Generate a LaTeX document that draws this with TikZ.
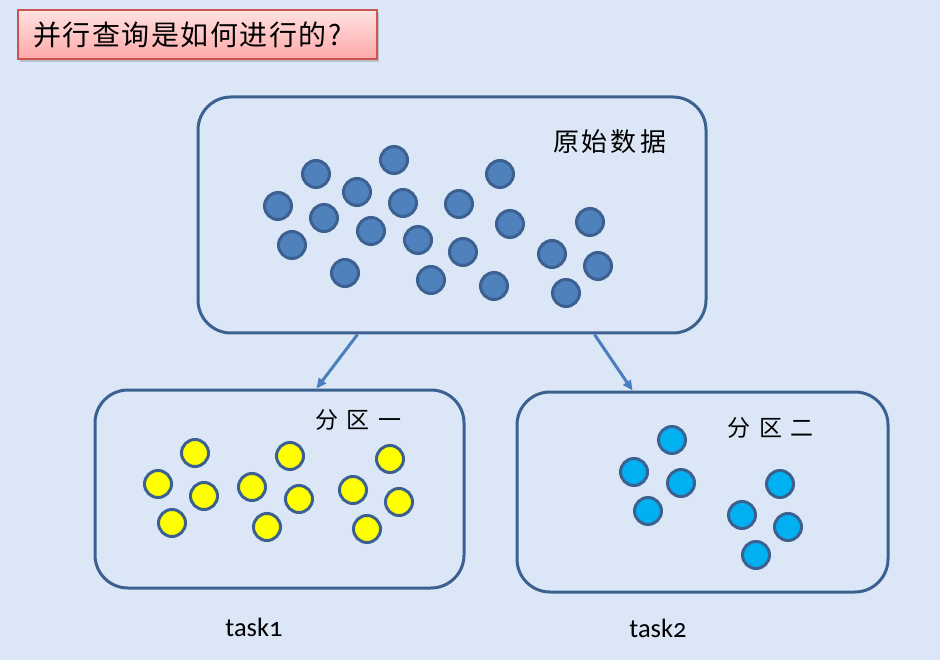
\documentclass[tikz,border=0pt]{standalone}
\usepackage{fontspec}
\setmainfont{Carlito}[Numbers=OldStyle]
\newfontfamily\cjk{Noto Sans CJK SC}
\newfontfamily\cjkwide{Noto Sans CJK SC}[LetterSpace=5.5]
\usetikzlibrary{shadows,arrows.meta}
\definecolor{bg}{RGB}{219,230,246}
\definecolor{edge}{RGB}{60,97,145}
\definecolor{arr}{RGB}{74,126,190}
\definecolor{bdotfill}{RGB}{79,129,189}
\definecolor{ydotfill}{RGB}{255,255,0}
\definecolor{cdotfill}{RGB}{0,176,240}
\definecolor{titleedge}{RGB}{200,85,82}
\begin{document}
\begin{tikzpicture}[x=1pt,y=-1pt,
  panel/.style={draw=edge,line width=3pt,rounded corners=33pt,rectangle,inner sep=0pt},
  dot/.style={circle,draw=edge,line width=3pt,minimum size=27pt,inner sep=0pt},
  bdot/.style={dot,fill=bdotfill},
  ydot/.style={dot,fill=ydotfill},
  cdot/.style={dot,fill=cdotfill},
  link/.style={draw=arr,line width=3pt,-{Triangle[length=10pt,width=9pt]}},
  cjklabel/.style={font=\cjk\fontsize{26}{29}\selectfont,inner sep=0pt},
  sublabel/.style={font=\cjk\fontsize{23}{26}\selectfont,inner sep=0pt},
  tasklabel/.style={font=\fontsize{26.5}{30}\selectfont,inner sep=0pt}]
\useasboundingbox (0,0) rectangle (940,660);
\fill[bg] (0,0) rectangle (940,660);
% title
\node[draw=titleedge,line width=1.5pt,top color={rgb,255:red,255;green,226;blue,226},
      bottom color={rgb,255:red,255;green,168;blue,168},
      drop shadow={shadow xshift=2pt,shadow yshift=-3pt,opacity=0.35},
      minimum height=49pt,text width=329pt,inner xsep=15pt,align=left,
      font=\cjkwide\fontsize{28}{30}\selectfont] (title) at (197.5,34.5) {并行查询是如何进行的?};
% panels
\node[panel,minimum width=508pt,minimum height=236pt] (src) at (452,215) {};
\node[panel,minimum width=369pt,minimum height=198pt] (p1) at (279.5,489) {};
\node[panel,minimum width=371pt,minimum height=200pt] (p2) at (702.5,492) {};
% labels
\node[cjklabel] (srclbl) at (609.5,142) {原\hspace{3pt}始\hspace{3pt}数\hspace{3pt}据};
\node[sublabel] (p1lbl) at (358.5,420) {分\hspace{9pt}区\hspace{9pt}一};
\node[sublabel] (p2lbl) at (770.5,428) {分\hspace{9pt}区\hspace{9pt}二};
% dots
\foreach \px/\py [count=\i] in {278/206,316/174,292/245,324/218,357/192,371/231,345/273,394/160,403/203,418/240,431/280,459/204,463/252,500/174,510/224,494/286,552/254,590/222,598/266,566/293}
  \node[bdot] (d\i) at (\px,\py) {};
\foreach \px/\py [count=\i] in {195/453,158/484,204/496,172/523,290/456,252/487,299/499,267/527,390/459,353/490,399/502,367/529}
  \node[ydot] (y\i) at (\px,\py) {};
\foreach \px/\py [count=\i] in {672/440,634/472,681/483,648/511,780/484,742/515,788/527,756/555}
  \node[cdot] (c\i) at (\px,\py) {};
% connectors
\coordinate (s1) at ([xshift=161pt]src.south west);
\coordinate (s2) at ([xshift=398pt]src.south west);
\coordinate (e1) at ([xshift=223pt]p1.north west);
\coordinate (e2) at ([xshift=117pt]p2.north west);
\draw[link] (s1) -- (e1);
\draw[link] (s2) -- (e2);
% task labels
\node[tasklabel] (t1) at (254,627) {task1};
\node[tasklabel] (t2) at (658,628) {task2};
\end{tikzpicture}
\end{document}
